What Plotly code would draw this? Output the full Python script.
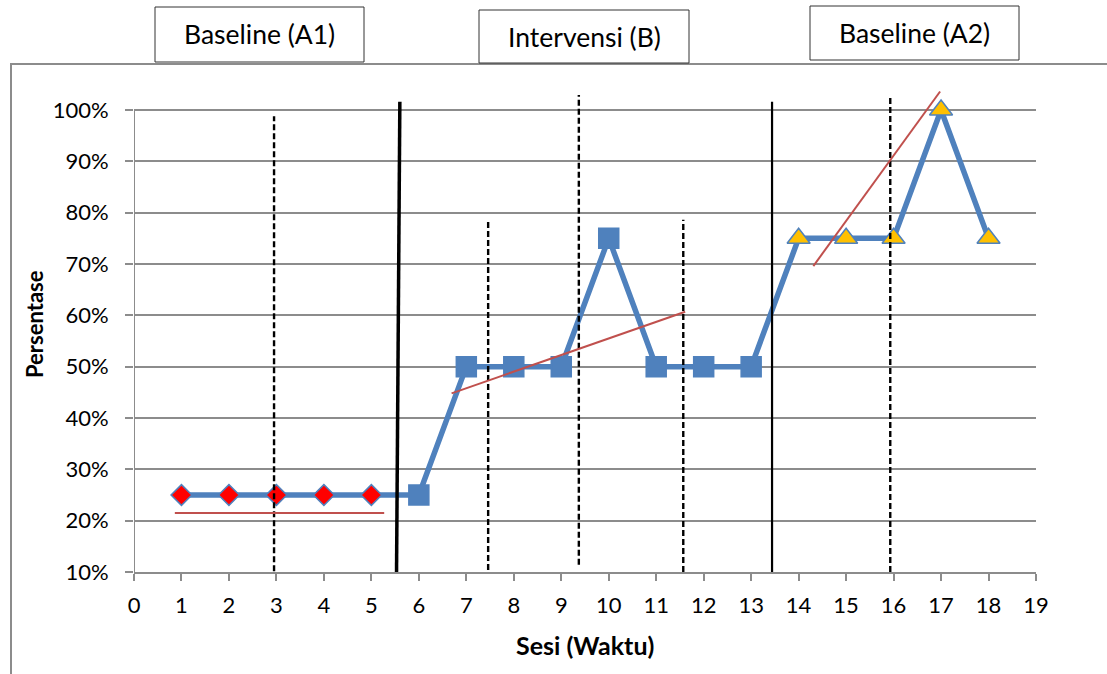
import plotly.graph_objects as go

# ---------------- data ----------------
sessions = list(range(1, 19))
percent = [25, 25, 25, 25, 25, 25, 50, 50, 50, 75, 50, 50, 50, 75, 75, 75, 100, 75]
phase = ["A1"] * 5 + ["B"] * 8 + ["A2"] * 5

phase_titles = ["Baseline (A1)", "Intervensi (B)", "Baseline (A2)"]

# phase-change lines (solid)
solid_x0 = [5.53, 13.44]
solid_x1 = [5.60, 13.44]
solid_y0 = [10, 10]
solid_y1 = [101.6, 101.6]

# dashed split lines
dashed_x = [2.95, 7.46, 9.37, 11.57, 15.93]
dashed_y0 = [8.4, 10.4, 11.4, 10.0, 10.0]
dashed_y1 = [98.8, 78.6, 102.9, 78.6, 102.7]

# trend lines (red)
trend_x0 = [0.86, 6.69, 14.31]
trend_x1 = [5.27, 11.61, 16.98]
trend_y0 = [21.5, 44.8, 69.6]
trend_y1 = [21.5, 60.7, 103.6]

x_ticks = list(range(0, 20))
y_ticks = [10, 20, 30, 40, 50, 60, 70, 80, 90, 100]

# ---------------- geometry ----------------
W, H = 1107, 674
L, R = 134, 1036          # plot area left/right px
B = 572                   # px of 10%
TOP100 = 110              # px of 100%
T = 80                    # top margin
plot_h = H - T - (H - B)
px_per_unit = (B - TOP100) / 90.0
y_top = 10 + plot_h / px_per_unit


def px(xp):
    return (xp - L) / (R - L)


def py(yp):
    return (B - yp) / plot_h


BLUE = "#4F81BD"
RED = "#C0504D"
GRID = "#8C8C8C"
FONT = "Lato"

sym_map = {"A1": "diamond", "B": "square", "A2": "triangle-up"}
fill_map = {"A1": "#FF0000", "B": BLUE, "A2": "#FFC000"}
size_map = {"A1": 16, "B": 20, "A2": 20}

fig = go.Figure()

fig.add_trace(go.Scatter(
    x=sessions, y=percent, mode="lines",
    line=dict(color=BLUE, width=5.5),
    showlegend=False, hoverinfo="skip"))

for ph in ["A1", "B", "A2"]:
    xs = [s for s, p in zip(sessions, phase) if p == ph]
    ys = [v for v, p in zip(percent, phase) if p == ph]
    fig.add_trace(go.Scatter(
        x=xs, y=ys, mode="markers", opacity=1,
        marker=dict(symbol=sym_map[ph], color=fill_map[ph], size=size_map[ph], opacity=1,
                    line=dict(color=BLUE, width=1.5)),
        cliponaxis=False, showlegend=False, hoverinfo="skip"))

shapes = []
# frame
shapes.append(dict(type="rect", xref="paper", yref="paper",
                   x0=px(11), x1=px(1130), y0=py(700), y1=py(64),
                   line=dict(color=GRID, width=2), fillcolor="rgba(0,0,0,0)", layer="below"))
# y axis line
shapes.append(dict(type="line", xref="x", yref="y", x0=0, x1=0, y0=y_ticks[0], y1=y_ticks[-1],
                   line=dict(color=GRID, width=2), layer="below"))
# solid phase lines
for i in range(len(solid_x0)):
    shapes.append(dict(type="line", xref="x", yref="y",
                       x0=solid_x0[i], x1=solid_x1[i], y0=solid_y0[i], y1=solid_y1[i],
                       line=dict(color="black", width=3.5 if i == 0 else 2.2)))
# dashed lines
for i in range(len(dashed_x)):
    shapes.append(dict(type="line", xref="x", yref="y",
                       x0=dashed_x[i], x1=dashed_x[i], y0=dashed_y0[i], y1=dashed_y1[i],
                       line=dict(color="black", width=2.4, dash="6px,3px")))
# trend lines
for i in range(len(trend_x0)):
    shapes.append(dict(type="line", xref="x", yref="y",
                       x0=trend_x0[i], x1=trend_x1[i], y0=trend_y0[i], y1=trend_y1[i],
                       line=dict(color=RED, width=2)))

# title boxes
boxes = [(155, 364, 7, 62), (479, 689, 10, 63), (810, 1019, 6, 60)]
annotations = []
for (x0, x1, y0, y1), txt in zip(boxes, phase_titles):
    shapes.append(dict(type="rect", xref="paper", yref="paper",
                       x0=px(x0), x1=px(x1), y0=py(y1), y1=py(y0),
                       line=dict(color="#333333", width=1), fillcolor="white"))
    annotations.append(dict(xref="paper", yref="paper", x=px((x0 + x1) / 2), y=py((y0 + y1) / 2),
                            text=txt, showarrow=False, xanchor="center", yanchor="middle",
                            font=dict(family=FONT, size=26.5, color="black")))

annotations.append(dict(xref="paper", yref="paper", x=px(585), y=py(645), text="<b>Sesi (Waktu)</b>",
                        showarrow=False, xanchor="center", yanchor="middle",
                        font=dict(family=FONT, size=25, color="black")))
annotations.append(dict(xref="paper", yref="paper", x=px(34), y=py(324), text="<b>Persentase</b>",
                        showarrow=False, xanchor="center", yanchor="middle", textangle=-90,
                        font=dict(family=FONT, size=22, color="black")))

fig.update_layout(
    width=W, height=H,
    margin=dict(l=L, r=W - R, t=T, b=H - B),
    plot_bgcolor="white", paper_bgcolor="white",
    shapes=shapes, annotations=annotations,
    font=dict(family=FONT, color="black"),
    xaxis=dict(range=[0, 19], tickvals=x_ticks, ticktext=[str(v) for v in x_ticks],
               showgrid=False, zeroline=False, showline=True, linecolor=GRID, linewidth=2,
               ticks="outside", ticklen=7, tickwidth=2, tickcolor=GRID,
               tickfont=dict(family=FONT, size=22, color="black"), ticklabelstandoff=6),
    yaxis=dict(range=[10, y_top], tickvals=y_ticks, ticktext=[f"{v}%" for v in y_ticks],
               showgrid=True, gridcolor=GRID, gridwidth=2, zeroline=False, showline=False,
               ticks="outside", ticklen=8, tickwidth=2, tickcolor=GRID,
               tickfont=dict(family=FONT, size=22, color="black"), ticklabelstandoff=12),
)

fig.write_html("out.html", config={"displayModeBar": False},
               post_script="document.body.style.margin='0';")
